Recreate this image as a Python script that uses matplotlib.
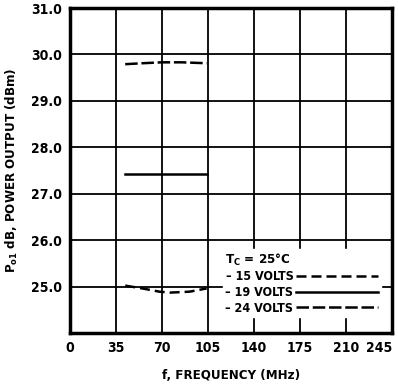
import matplotlib
matplotlib.use("Agg")
import matplotlib.pyplot as plt
from matplotlib import font_manager as fm

# Data
f_24 = [42, 55, 70, 85, 104]
p_24 = [29.79, 29.81, 29.83, 29.83, 29.81]
f_19 = [42, 104]
p_19 = [27.42, 27.42]
f_15 = [42, 55, 68, 76, 91, 104]
p_15 = [25.02, 24.96, 24.89, 24.87, 24.89, 24.96]

x_ticks = [0, 35, 70, 105, 140, 175, 210, 245]
y_ticks = [25.0, 26.0, 27.0, 28.0, 29.0, 30.0, 31.0]
y_ticklabels = ["25.0", "26.0", "27.0", "28.0", "29.0", "30.0", "31.0"]

available = {f.name for f in fm.fontManager.ttflist}
FONT = ["Liberation Sans Narrow", "DejaVu Sans"] if "Liberation Sans Narrow" in available else ["DejaVu Sans"]
plt.rcParams['font.family'] = FONT
plt.rcParams['font.stretch'] = 'condensed'
plt.rcParams['mathtext.fontset'] = 'custom'
plt.rcParams['mathtext.rm'] = FONT[0] + ':bold'

fig = plt.figure(figsize=(3.98, 3.85), dpi=100)
ax = fig.add_axes([70/398, 1-333/385, (392-70)/398, (333-8)/385])

ax.set_xlim(0, 245)
ax.set_ylim(24.0, 31.0)
ax.set_xticks(x_ticks)
ax.set_yticks(y_ticks)
ax.set_yticklabels(y_ticklabels)
ax.tick_params(length=0, labelsize=10, pad=6)
for lab in ax.get_xticklabels() + ax.get_yticklabels():
    lab.set_fontweight('bold')
ax.get_xticklabels()[-1].set_horizontalalignment('right')
ax.grid(True, color='black', linewidth=1.3)
ax.set_axisbelow(True)
for s in ax.spines.values():
    s.set_linewidth(2.5)

l24, = ax.plot(f_24, p_24, color='black', linewidth=1.8, dashes=(5, 1.5))
l19, = ax.plot(f_19, p_19, color='black', linewidth=1.8)
l15, = ax.plot(f_15, p_15, color='black', linewidth=1.8, dashes=(4, 2))

leg = ax.legend([l15, l19, l24], ["– 15 VOLTS", "– 19 VOLTS", "– 24 VOLTS"],
                markerfirst=False, loc='lower right', bbox_to_anchor=(0.985, 0.03),
                frameon=True, fancybox=False, edgecolor='white', facecolor='white',
                framealpha=1.0, handlelength=6.6, handletextpad=0.2, labelspacing=0.2,
                borderpad=0.2, title=r"T$_\mathrm{C}$ = 25°C", alignment='left',
                prop={'family': FONT, 'weight': 'bold', 'size': 9})
leg.get_title().set_fontsize(9.5)
leg.get_title().set_fontweight('bold')

ax.set_xlabel("f, FREQUENCY (MHz)", fontsize=9.5, fontweight='bold', labelpad=10)
ax.set_ylabel(r"P$_\mathrm{o1}$ dB, POWER OUTPUT (dBm)", fontsize=9.5, fontweight='bold', labelpad=8)

fig.savefig("out.png", dpi=100)
